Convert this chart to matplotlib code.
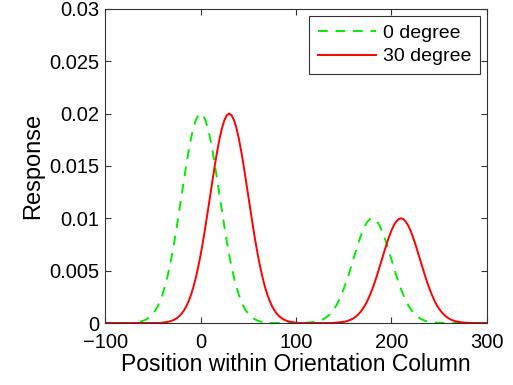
import numpy as np
import matplotlib.pyplot as plt

plt.rcParams["font.family"] = ["Liberation Sans", "DejaVu Sans"]

# sample positions along the column (every 2.5 units, -100..300)
position = np.arange(-100, 302.5, 2.5)

# responses (peaks at 0/180 and 30/210)
resp_0deg = (
    [0] * 12
    + [0.00004, 0.00007, 0.00010, 0.00015, 0.00022, 0.00032, 0.00046, 0.00064,
       0.00088, 0.00119, 0.00159, 0.00209, 0.00271, 0.00345, 0.00433, 0.00534,
       0.00649, 0.00777, 0.00916, 0.01062, 0.01213, 0.01364, 0.01510, 0.01645,
       0.01765, 0.01864, 0.01938, 0.01984, 0.02000, 0.01984, 0.01938, 0.01864,
       0.01765, 0.01645, 0.01510, 0.01364, 0.01213, 0.01062, 0.00916, 0.00777,
       0.00649, 0.00534, 0.00433, 0.00345, 0.00271, 0.00209, 0.00159, 0.00119,
       0.00088, 0.00064, 0.00046, 0.00032, 0.00022, 0.00015, 0.00010, 0.00007,
       0.00004]
    + [0] * 15
    + [0.00002, 0.00003, 0.00005, 0.00008, 0.00011, 0.00016, 0.00023, 0.00032,
       0.00044, 0.00060, 0.00080, 0.00105, 0.00135, 0.00172, 0.00216, 0.00267,
       0.00325, 0.00389, 0.00458, 0.00531, 0.00607, 0.00682, 0.00755, 0.00823,
       0.00883, 0.00932, 0.00969, 0.00992, 0.01000, 0.00992, 0.00969, 0.00932,
       0.00883, 0.00823, 0.00755, 0.00682, 0.00607, 0.00531, 0.00458, 0.00389,
       0.00325, 0.00267, 0.00216, 0.00172, 0.00135, 0.00105, 0.00080, 0.00060,
       0.00044, 0.00032, 0.00023, 0.00016, 0.00011, 0.00008, 0.00005, 0.00003,
       0.00002]
    + [0] * 20
)
resp_30deg = (
    [0] * 24
    + [0.00004, 0.00007, 0.00010, 0.00015, 0.00022, 0.00032, 0.00046, 0.00064,
       0.00088, 0.00119, 0.00159, 0.00209, 0.00271, 0.00345, 0.00433, 0.00534,
       0.00649, 0.00777, 0.00916, 0.01062, 0.01213, 0.01364, 0.01510, 0.01645,
       0.01765, 0.01864, 0.01938, 0.01984, 0.02000, 0.01984, 0.01938, 0.01864,
       0.01765, 0.01645, 0.01510, 0.01364, 0.01213, 0.01062, 0.00916, 0.00777,
       0.00649, 0.00534, 0.00433, 0.00345, 0.00271, 0.00209, 0.00159, 0.00119,
       0.00088, 0.00064, 0.00046, 0.00032, 0.00022, 0.00015, 0.00010, 0.00007,
       0.00004]
    + [0] * 15
    + [0.00002, 0.00003, 0.00005, 0.00008, 0.00011, 0.00016, 0.00023, 0.00032,
       0.00044, 0.00060, 0.00080, 0.00105, 0.00135, 0.00172, 0.00216, 0.00267,
       0.00325, 0.00389, 0.00458, 0.00531, 0.00607, 0.00682, 0.00755, 0.00823,
       0.00883, 0.00932, 0.00969, 0.00992, 0.01000, 0.00992, 0.00969, 0.00932,
       0.00883, 0.00823, 0.00755, 0.00682, 0.00607, 0.00531, 0.00458, 0.00389,
       0.00325, 0.00267, 0.00216, 0.00172, 0.00135, 0.00105, 0.00080, 0.00060,
       0.00044, 0.00032, 0.00023, 0.00016, 0.00011, 0.00008, 0.00005, 0.00003,
       0.00002]
    + [0] * 8
)

xticks = [-100, 0, 100, 200, 300]
xtick_labels = ["\u2212100", "0", "100", "200", "300"]
yticks = [0, 0.005, 0.01, 0.015, 0.02, 0.025, 0.03]
ytick_labels = ["0", "0.005", "0.01", "0.015", "0.02", "0.025", "0.03"]

fig = plt.figure(figsize=(5.13, 3.85), dpi=100)
ax = fig.add_axes([0.205, 0.161, 0.744, 0.816])

ax.plot(position, resp_0deg, color="#00ee00", linestyle="--", dashes=(5, 4),
        linewidth=1.4, label="0 degree")
ax.plot(position, resp_30deg, color="#ff0000", linewidth=1.4, label="30 degree")

ax.set_xlim(-100, 300)
ax.set_ylim(0, 0.03)
ax.set_xticks(xticks)
ax.set_xticklabels(xtick_labels)
ax.set_yticks(yticks)
ax.set_yticklabels(ytick_labels)
ax.tick_params(direction="in", top=True, right=True, length=4, labelsize=14.5,
               color="#333333")
ax.tick_params(axis="x", pad=7)
ax.tick_params(axis="y", pad=4)
for s in ax.spines.values():
    s.set_color("#333333")
    s.set_linewidth(0.8)

ax.set_xlabel("Position within Orientation Column", fontsize=16.5, labelpad=1)
ax.set_ylabel("Response", fontsize=17, labelpad=4)

leg = ax.legend(loc="upper right", fontsize=14, fancybox=False, framealpha=1,
                edgecolor="#333333", handlelength=3.0, borderaxespad=0.35,
                handletextpad=0.35, borderpad=0.45, labelspacing=0.3)
leg.get_frame().set_linewidth(0.8)

fig.savefig("out.png", dpi=100)
